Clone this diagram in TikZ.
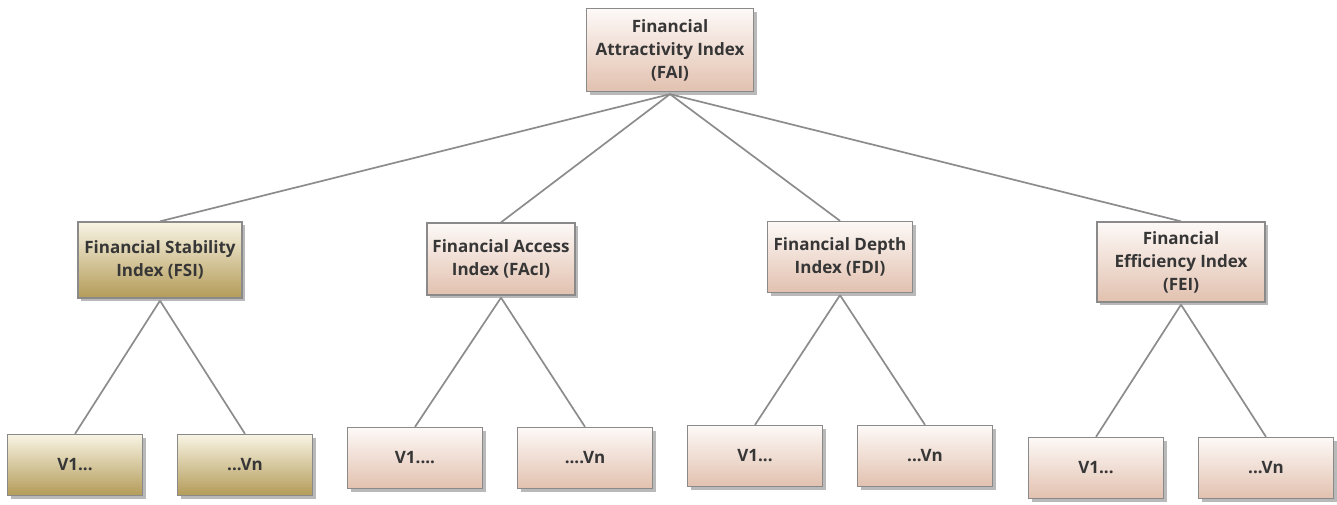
\documentclass[tikz,border=0pt]{standalone}
\usepackage{fontspec}
\setmainfont{Open Sans}
\usetikzlibrary{shadows}
\definecolor{txt}{HTML}{363636}
\definecolor{bord}{HTML}{8A8A8A}
\definecolor{tanTop}{HTML}{F8F4E4}
\definecolor{tanBot}{HTML}{B39B58}
\definecolor{pinkTop}{HTML}{FDF9F7}
\definecolor{pinkBot}{HTML}{E2C1AF}
\definecolor{linec}{HTML}{8C8C8C}
\tikzset{
  x=1pt, y=-1pt,
  box/.style={draw=bord, line width=1.3pt, inner sep=2pt, align=center,
    text=txt, font=\fontsize{17}{23}\selectfont\bfseries,
    drop shadow={shadow xshift=3pt, shadow yshift=-3pt, opacity=0.55, fill=gray}},
  tanbox/.style={box, top color=tanTop, bottom color=tanBot},
  pinkbox/.style={box, top color=pinkTop, bottom color=pinkBot},
  leaf/.style={minimum width=135pt, minimum height=61pt},
  link/.style={draw=linec, line width=1.7pt},
}
\begin{document}
\begin{tikzpicture}
\useasboundingbox (0,0) rectangle (1337,504);
% top
\node[pinkbox, minimum width=167pt, minimum height=83pt] (fai) at (670,50) {Financial\\Attractivity Index\\(FAI)};
% middle
\node[tanbox, minimum width=164pt, minimum height=76pt] (fsi) at (160,260) {Financial Stability\\Index (FSI)};
\node[pinkbox, minimum width=148pt, minimum height=72pt] (faci) at (501,259) {Financial Access\\Index (FAcI)};
\node[pinkbox, minimum width=145pt, minimum height=71pt] (fdi) at (840,257) {Financial Depth\\Index (FDI)};
\node[pinkbox, minimum width=168pt, minimum height=80pt] (fei) at (1181,262) {Financial\\Efficiency Index\\(FEI)};
% leaves
\node[tanbox, leaf] (s1) at (75,465) {V1...};
\node[tanbox, leaf] (s2) at (245,465) {...Vn};
\node[pinkbox, leaf] (a1) at (415,458) {V1....};
\node[pinkbox, leaf] (a2) at (585,458) {....Vn};
\node[pinkbox, leaf] (d1) at (755,456) {V1...};
\node[pinkbox, leaf] (d2) at (925,456) {...Vn};
\node[pinkbox, leaf] (e1) at (1096,468) {V1...};
\node[pinkbox, leaf] (e2) at (1266,468) {...Vn};
% links
\foreach \p/\c in {fai/fsi, fai/faci, fai/fdi, fai/fei, fsi/s1, fsi/s2, faci/a1, faci/a2, fdi/d1, fdi/d2, fei/e1, fei/e2}{
  \draw[link] ([yshift=-2pt]\p.south) -- (\c.north);
}
\end{tikzpicture}
\end{document}
